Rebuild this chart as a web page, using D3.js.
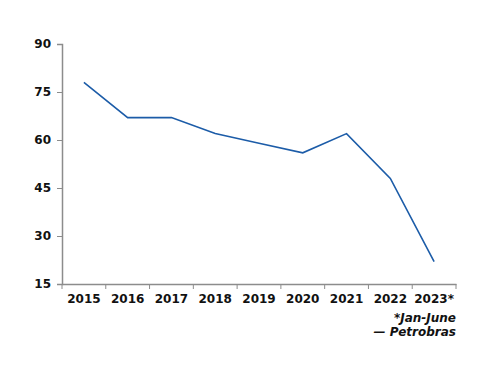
<!DOCTYPE html>
<html>
<head>
<meta charset="utf-8">
<script src="https://cdn.jsdelivr.net/npm/d3@7"></script>
<style>
  body { margin: 0; background: #fff; }
  text { font-family: "DejaVu Sans", Verdana, sans-serif; }
</style>
</head>
<body>
<div id="chart"></div>
<script>
const years = ["2015", "2016", "2017", "2018", "2019", "2020", "2021", "2022", "2023*"];
const values = [78, 67, 67, 62, 59, 56, 62, 48, 22];
const yTicks = [15, 30, 45, 60, 75, 90];
const notes = ["*Jan-June", "\u2014 Petrobras"];

var width = 500, height = 386;
var margin = {top: 44, right: 44, bottom: 102, left: 62};

const svg = d3.select("#chart").append("svg")
  .attr("width", width)
  .attr("height", height);

var x = d3.scaleBand()
  .domain(years)
  .range([margin.left, width - margin.right]);

var y = d3.scaleLinear()
  .domain([15, 90])
  .range([height - margin.bottom, margin.top]);

// y axis
var ya = svg.append("g")
  .attr("transform", "translate(" + margin.left + ",0)")
  .call(d3.axisLeft(y).tickValues(yTicks).tickSize(5).tickPadding(6));
ya.select(".domain").attr("stroke", "#8c8c8c").attr("stroke-width", 1.5);
ya.selectAll(".tick line").attr("stroke", "#8c8c8c");
ya.selectAll(".tick text")
  .attr("fill", "#111")
  .style("font-size", "12px")
  .style("font-weight", "bold");

// x axis, ticks on band edges
var xa = svg.append("g")
  .attr("transform", "translate(0," + (height - margin.bottom) + ")")
  .call(d3.axisBottom(x).tickSize(0).tickPadding(10));
xa.select(".domain").attr("stroke", "#8c8c8c").attr("stroke-width", 1.5);
xa.selectAll(".tick text")
  .attr("fill", "#111")
  .style("font-size", "12px")
  .style("font-weight", "bold");

var edges = years.map(d => x(d)).concat([x.range()[1]]);
svg.append("g").selectAll("line").data(edges).enter()
  .append("line")
  .attr("x1", d => d).attr("x2", d => d)
  .attr("y1", height - margin.bottom)
  .attr("y2", height - margin.bottom + 5)
  .attr("stroke", "#8c8c8c");

// line
var line = d3.line()
  .x((d, i) => x(years[i]) + x.bandwidth() / 2)
  .y(d => y(d));

svg.append("path")
  .datum(values)
  .attr("fill", "none")
  .attr("stroke", "#1c5ca8")
  .attr("stroke-width", 1.6)
  .attr("d", line);

// notes
svg.append("g").selectAll("text").data(notes).enter()
  .append("text")
  .attr("x", width - margin.right)
  .attr("y", (d, i) => 322 + i * 14)
  .attr("text-anchor", "end")
  .attr("fill", "#111")
  .style("font-size", "12px")
  .style("font-style", "italic")
  .style("font-weight", "bold")
  .text(d => d);
</script>
</body>
</html>
